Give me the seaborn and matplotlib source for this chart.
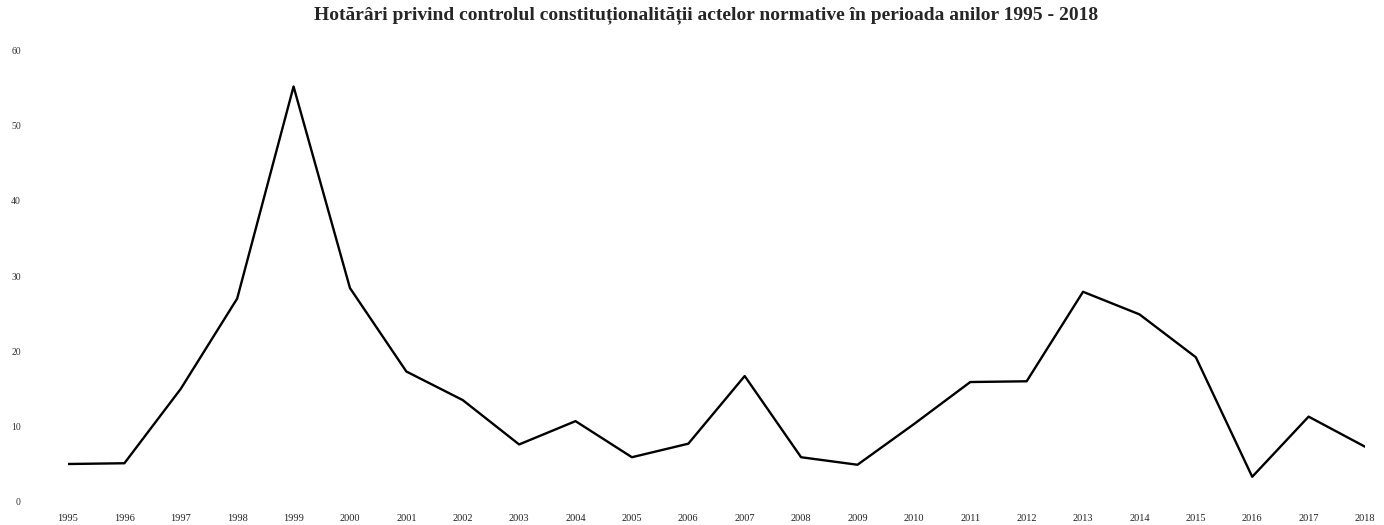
import pandas as pd
import matplotlib
matplotlib.use('Agg')
import matplotlib.pyplot as plt
import seaborn as sns

years = [str(y) for y in range(1995, 2019)]
values = [5, 5.1, 15, 27, 55.2, 28.4, 17.3, 13.5, 7.6, 10.7, 5.9, 7.7,
          16.7, 5.9, 4.9, 10.3, 15.9, 16, 27.9, 24.9, 19.2, 3.3, 11.3, 7.3]
y_ticks = [0, 10, 20, 30, 40, 50, 60]

df = pd.DataFrame({'An': years, 'Hotarari': values})

sns.set_style("white")
plt.rcParams['font.family'] = ['Liberation Serif', 'DejaVu Serif']

fig = plt.figure(figsize=(13.84, 5.25), dpi=100)
ax = fig.add_axes([68 / 1384, 23.4 / 525, (1365 - 68) / 1384, 451.2 / 525])
sns.lineplot(data=df, x='An', y='Hotarari', color='black', linewidth=1.7, sort=False, ax=ax)

ax.set_xlim(0, len(years) - 1)
ax.set_ylim(0, 60)
ax.set_yticks(y_ticks)
ax.set_xlabel('')
ax.set_ylabel('')
ax.tick_params(axis='y', length=0, pad=34, labelsize=7, colors='#333333')
ax.tick_params(axis='x', length=0, pad=9, labelsize=7.5, colors='#222222')
sns.despine(ax=ax, left=True, bottom=True)

fig.text(0.51, 0.988, 'Hotărâri privind controlul constituționalității actelor normative în perioada anilor 1995 - 2018',
         ha='center', va='top', fontsize=14, fontweight='bold')

fig.savefig('out.png', dpi=100)
